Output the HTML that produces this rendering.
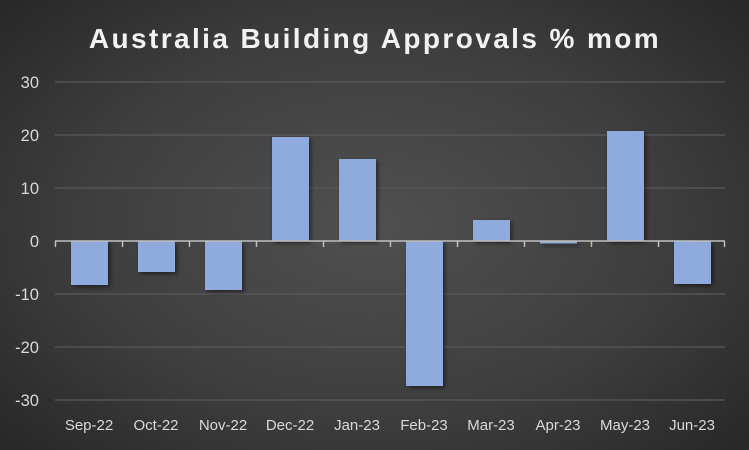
<!DOCTYPE html>
<html><head><style>
body{margin:0;}
#c{width:749px;height:450px;position:relative;overflow:hidden;font-family:"Liberation Sans",sans-serif;
background:radial-gradient(ellipse 70% 75% at 50% 50%, #505050 0%, #3e3e3e 55%, #262626 100%);}
</style></head><body>
<div id="c">
<svg width="749" height="450" xmlns="http://www.w3.org/2000/svg" style="position:absolute;left:0;top:0">
<defs><filter id="s" x="-20%" y="-20%" width="150%" height="150%"><feDropShadow dx="2" dy="2" stdDeviation="2" flood-color="#000" flood-opacity="0.5"/></filter></defs>
<text x="375" y="48" text-anchor="middle" fill="#f2f2f2" font-size="28" font-weight="bold" letter-spacing="2.4">Australia Building Approvals % mom</text>
<g stroke="#5a5a5a" stroke-width="1.3">
<line x1="55" x2="725" y1="82" y2="82"/><line x1="55" x2="725" y1="135" y2="135"/>
<line x1="55" x2="725" y1="188" y2="188"/><line x1="55" x2="725" y1="294" y2="294"/>
<line x1="55" x2="725" y1="347" y2="347"/><line x1="55" x2="725" y1="400" y2="400"/>
</g>
<g fill="#d9d9d9" font-size="16.5" text-anchor="end">
<text x="39" y="88">30</text><text x="39" y="141">20</text><text x="39" y="194">10</text>
<text x="39" y="247">0</text><text x="39" y="300">-10</text><text x="39" y="353">-20</text><text x="39" y="406">-30</text>
</g>
<g fill="#8faadc" filter="url(#s)">
<rect x="71" y="241" width="37" height="44"/>
<rect x="138" y="241" width="37" height="31"/>
<rect x="205" y="241" width="37" height="49"/>
<rect x="272" y="137" width="37" height="104"/>
<rect x="339" y="159" width="37" height="82"/>
<rect x="406" y="241" width="37" height="145"/>
<rect x="473" y="220" width="37" height="21"/>
<rect x="540" y="241" width="37" height="2.5"/>
<rect x="607" y="131" width="37" height="110"/>
<rect x="674" y="241" width="37" height="43"/>
</g>
<g stroke="#bfbfbf" stroke-width="1.5">
<line x1="55" x2="725" y1="241" y2="241"/>
<line x1="55.5" x2="55.5" y1="241" y2="247"/><line x1="122.5" x2="122.5" y1="241" y2="247"/>
<line x1="189.5" x2="189.5" y1="241" y2="247"/><line x1="256.5" x2="256.5" y1="241" y2="247"/>
<line x1="323.5" x2="323.5" y1="241" y2="247"/><line x1="390.5" x2="390.5" y1="241" y2="247"/>
<line x1="457.5" x2="457.5" y1="241" y2="247"/><line x1="524.5" x2="524.5" y1="241" y2="247"/>
<line x1="591.5" x2="591.5" y1="241" y2="247"/><line x1="658.5" x2="658.5" y1="241" y2="247"/>
<line x1="724.5" x2="724.5" y1="241" y2="247"/>
</g>
<g fill="#d9d9d9" font-size="15" text-anchor="middle">
<text x="89" y="430">Sep-22</text><text x="156" y="430">Oct-22</text><text x="223" y="430">Nov-22</text>
<text x="290" y="430">Dec-22</text><text x="357" y="430">Jan-23</text><text x="424" y="430">Feb-23</text>
<text x="491" y="430">Mar-23</text><text x="558" y="430">Apr-23</text><text x="625" y="430">May-23</text>
<text x="692" y="430">Jun-23</text>
</g>
</svg>
</div>
</body></html>
